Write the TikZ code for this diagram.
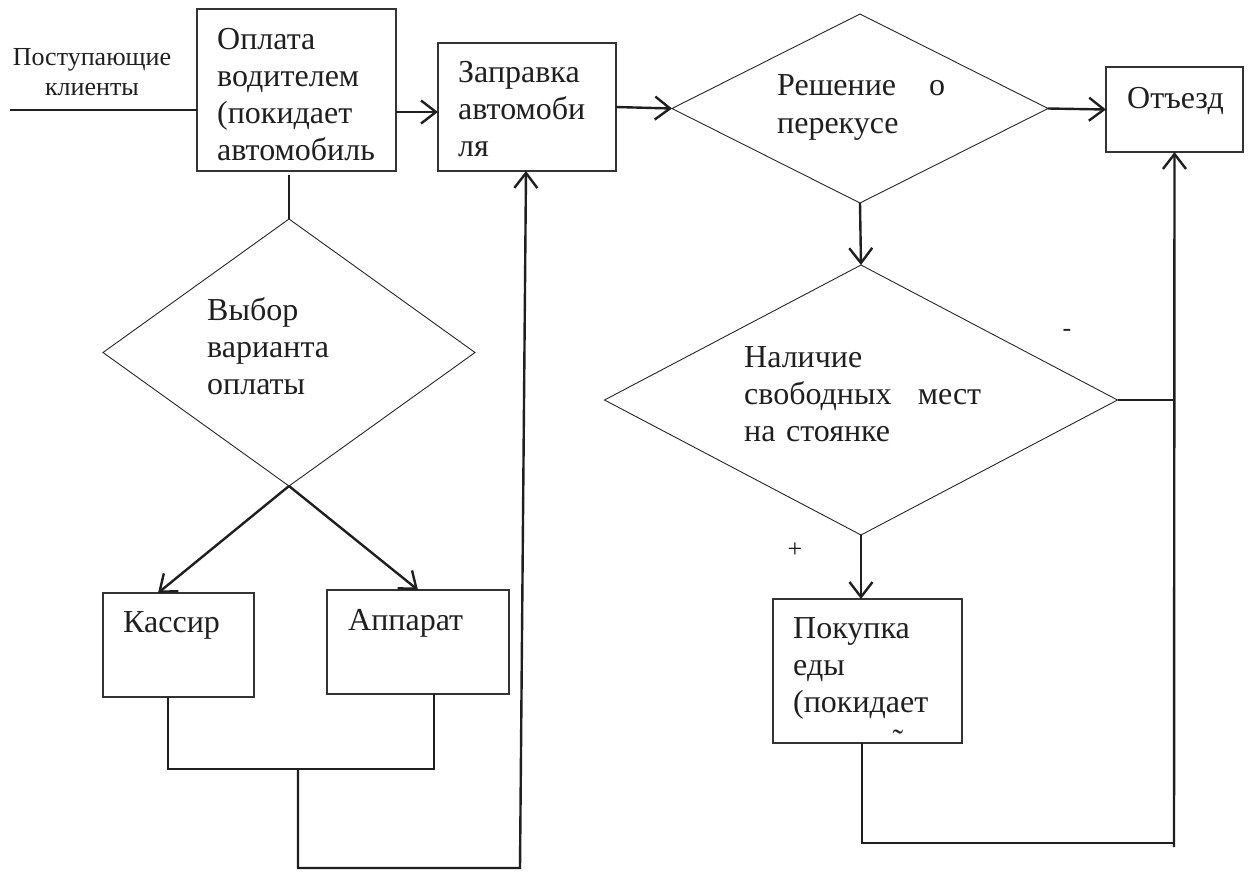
\documentclass[tikz,border=0pt]{standalone}
\usepackage{fontspec}
\setmainfont{Liberation Serif}
\usetikzlibrary{arrows.meta,shapes.geometric}
\begin{document}
\begin{tikzpicture}[x=1pt,y=-1pt,
  box/.style={draw=black!80, line width=1.3pt, rectangle, inner sep=0pt, outer sep=0pt},
  dia/.style={draw=black!85, line width=0.9pt, diamond, inner sep=0pt, outer sep=0pt},
  txt/.style={inner sep=0pt, anchor=base west, text width=260pt, align=left,
              font=\fontsize{32}{37}\selectfont, text=black!88},
  small/.style={inner sep=0pt, font=\fontsize{26}{30}\selectfont, text=black!88},
  conn/.style={draw=black!88, line width=1.8pt},
  arr/.style={draw=black!88, line width=2.4pt,
              -{Straight Barb[length=15pt,width=23pt,line width=2.4pt]}},
]
\useasboundingbox (0,0) rectangle (1248,871);

% boxes
\node[box, minimum width=199pt, minimum height=162pt] (b1) at (296.5,90) {};
\node[box, minimum width=178pt, minimum height=128pt] (b2) at (527,107) {};
\node[box, minimum width=137pt, minimum height=85pt] (ot) at (1174.5,109.5) {};
\node[box, minimum width=151pt, minimum height=104pt] (ka) at (178.5,645) {};
\node[box, minimum width=182pt, minimum height=104pt] (ap) at (418,642) {};
\node[box, minimum width=189pt, minimum height=144pt] (pk) at (867.5,671) {};

% diamonds
\node[dia, minimum width=372pt, minimum height=267pt] (d1) at (289,352.5) {};
\node[dia, minimum width=376pt, minimum height=189pt] (d2) at (860,108.5) {};
\node[dia, minimum width=513pt, minimum height=270pt] (d3) at (861,400) {};

% texts
\node[small, anchor=base, text width=180pt, align=center] (tin) at (92,65) {Поступающие\\клиенты};
\node[txt] (t1) at (217,49) {Оплата\\водителем\\(покидает\\автомобиль};
\node[txt] (t2) at (458,82) {Заправка\\автомоби\\ля};
\node[txt] (t3) at (1127,108) {Отъезд};
\node[txt, font=\fontsize{32}{38}\selectfont] (t4) at (777,95) {\makebox[168pt][l]{Решение\hfill о}\\перекусе};
\node[txt] (t5) at (207,320) {Выбор\\варианта\\оплаты};
\node[txt] (t6) at (744,367) {Наличие\\\makebox[237pt][l]{свободных\hfill мест}\\на стоянке};
\node[txt] (t7) at (123,632) {Кассир};
\node[txt] (t8) at (348,630) {Аппарат};
\node[txt] (t9) at (793,638) {Покупка\\еды\\(покидает};
\node[inner sep=0pt, font=\fontsize{32}{37}\selectfont, text=black!88] (t10) at (898,741) {˜};
\node[small] (lminus) at (1067,333) {-};
\node[small] (lplus) at (795,550) {+};

% coordinates
\coordinate (in) at (10,110);
\coordinate (p12) at (396,112);
\coordinate (j1) at (168,769);
\coordinate (j2) at (434,769);
\coordinate (j3) at (298,769);
\coordinate (j4) at (298,868);
\coordinate (j5) at (520,868);
\coordinate (r1) at (1174,400);
\coordinate (r2) at (1174,847);
\coordinate (r3) at (862,843);

% connectors
\draw[draw=black!88, line width=1.5pt] (in) -- (in -| b1.west);
\draw[arr] (p12 -| b1.east) -- (p12 -| b2.west);
\draw[draw=black!88, line width=1.5pt] ([yshift=-4pt]d1.north |- b1.south) -- (d1.north);
\draw[arr] (d1.south) -- ([xshift=-20.5pt]ka.north);
\draw[arr] (d1.south) -- (ap.north);
\draw[conn] (ka.south -| j1) -- (j1) -- (j2) -- (j2 |- ap.south);
\draw[arr] (j3) -- (j4) -- (j5) -- ([xshift=-1pt]b2.south);
\draw[arr] (b2.east) -- (d2.west);
\draw[arr] (d2.east) -- (ot.west);
\draw[arr] (d2.south) -- (d3.north);
\draw[arr] (d3.south) -- (d3.south |- pk.north);
\draw[conn] (d3.east) -- (r1);
\draw[arr] (r2) -- (ot.south);
\draw[conn] (pk.south -| r3) -- (r3) -- (r3 -| r2);
\end{tikzpicture}
\end{document}
